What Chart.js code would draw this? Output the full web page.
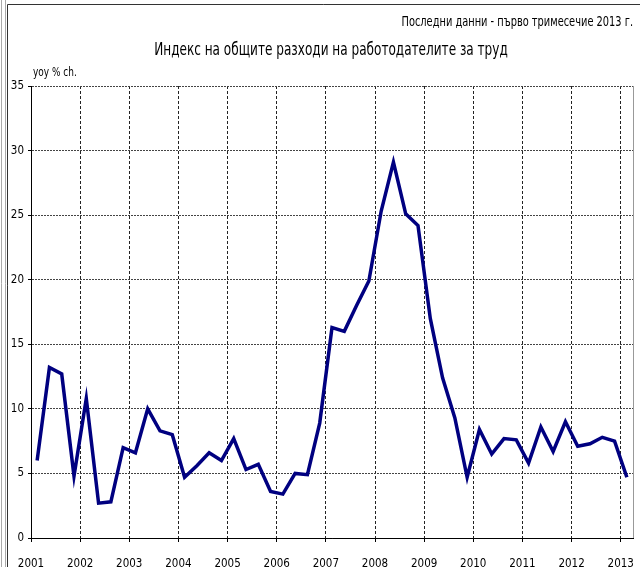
<!DOCTYPE html>
<html>
<head>
<meta charset="utf-8">
<script src="https://cdn.jsdelivr.net/npm/chart.js@4"></script>
<style>
  html, body { margin: 0; padding: 0; background: #fff; }
  #grafico { display: block; }
</style>
</head>
<body>
<canvas id="grafico" width="640" height="567"></canvas>
<script>
// данни - тримесечия 2001 Q1 .. 2013 Q1
const years = ['2001', '2002', '2003', '2004', '2005', '2006', '2007', '2008', '2009', '2010', '2011', '2012', '2013']
const yoy = [
  6.0, 13.2, 12.7, 4.8,
  10.8, 2.7, 2.8, 7.0,
  6.6, 10.0, 8.3, 8.0,
  4.7, 5.6, 6.6, 6.0,
  7.7, 5.3, 5.7, 3.6,
  3.4, 5.0, 4.9, 8.9,
  16.3, 16.0, 18.0, 19.9,
  25.3, 29.1, 25.1, 24.2,
  17.0, 12.4, 9.3, 4.7,
  8.4, 6.5, 7.7, 7.6,
  5.8, 8.6, 6.7, 9.0,
  7.1, 7.3, 7.8, 7.5,
  4.7
]
const yTicks = [0, 5, 10, 15, 20, 25, 30, 35]

const chartTitle = 'Индекс на общите разходи на работодателите за труд'
const chartNote = 'Последни данни - първо тримесечие 2013 г.'
const yTitle = 'yoy % ch.'

const FONT = "'Liberation Sans Narrow', 'DejaVu Sans Condensed', 'Arial Narrow', sans-serif"

// всяко тримесечие е в средата на своя интервал
const points = yoy.map((v, i) => ({ x: i + 0.5, y: v }))

// текст, свит хоризонтално (тесен шрифт)
function narrowText(c, text, x, y, size, align, sx) {
  c.save()
  c.font = size + 'px ' + FONT
  c.textAlign = align
  c.translate(x, y)
  c.scale(sx, 1)
  c.fillText(text, 0, 0)
  c.restore()
}

// рамка, заглавия и бял фон
const decorPlugin = {
  id: 'decor',
  beforeDraw(chart) {
    const c = chart.ctx
    c.save()
    c.fillStyle = '#fff'
    c.fillRect(0, 0, chart.width, chart.height)
    c.restore()
  },
  afterDraw(chart) {
    const c = chart.ctx
    const a = chart.chartArea
    c.save()
    // рамка отвън
    c.lineWidth = 1
    c.strokeStyle = '#aaa'
    c.beginPath()
    c.moveTo(1.5, 0); c.lineTo(1.5, chart.height)
    c.moveTo(5.5, 0); c.lineTo(5.5, chart.height)
    c.stroke()
    c.strokeStyle = '#333'
    c.beginPath()
    c.moveTo(7.5, chart.height); c.lineTo(7.5, 4.5); c.lineTo(chart.width, 4.5)
    c.stroke()
    // дясна граница на графиката
    c.strokeStyle = '#999'
    c.beginPath()
    c.moveTo(Math.round(a.right) + 0.5, a.top); c.lineTo(Math.round(a.right) + 0.5, a.bottom)
    c.stroke()

    c.fillStyle = '#000'
    c.textBaseline = 'alphabetic'
    narrowText(c, chartNote, 633, 26, 13.5, 'right', 0.81)
    narrowText(c, chartTitle, 331, 55, 17, 'center', 0.79)
    narrowText(c, yTitle, 33, 76, 12, 'left', 0.83)
    c.restore()
  }
}

const ctx = document.getElementById('grafico').getContext('2d')
const grafico = new Chart(ctx, {
  type: 'line',
  data: {
    datasets: [{
      label: 'yoy',
      data: points,
      borderColor: '#000080',
      borderWidth: 3.5,
      pointRadius: 0,
      fill: false,
      tension: 0
    }]
  },
  options: {
    responsive: false,
    animation: false,
    layout: { padding: { top: 86, right: 7, left: 0, bottom: 0 } },
    plugins: {
      legend: { display: false },
      title: { display: false },
      tooltip: { enabled: false }
    },
    scales: {
      x: {
        type: 'linear',
        min: 0,
        max: years.length * 4 - 3,
        afterBuildTicks: (scale) => {
          scale.ticks = years.map((y, i) => ({ value: i * 4 }))
        },
        afterFit: (scale) => {
          scale.height = 29
          scale.paddingLeft = 0
          scale.paddingRight = 0
        },
        ticks: {
          color: '#000',
          font: { family: FONT, size: 11.5 },
          padding: 15,
          maxRotation: 0,
          autoSkip: false,
          callback: (value) => years[value / 4]
        },
        grid: {
          color: '#222',
          tickColor: '#000',
          tickLength: 4,
          tickBorderDash: []
        },
        border: { display: true, color: '#000', width: 1, dash: [3, 2] }
      },
      y: {
        min: 0,
        max: 35,
        afterBuildTicks: (scale) => {
          scale.ticks = yTicks.map(v => ({ value: v }))
        },
        afterFit: (scale) => {
          scale.width = 31
          scale.paddingTop = 0
          scale.paddingBottom = 0
        },
        ticks: {
          color: '#000',
          font: { family: FONT, size: 11.5 },
          padding: 4
        },
        grid: {
          color: '#444',
          tickColor: '#000',
          tickLength: 3,
          tickBorderDash: []
        },
        border: { display: true, color: '#000', width: 1, dash: [2, 1] }
      }
    }
  },
  plugins: [decorPlugin]
})
</script>
</body>
</html>
